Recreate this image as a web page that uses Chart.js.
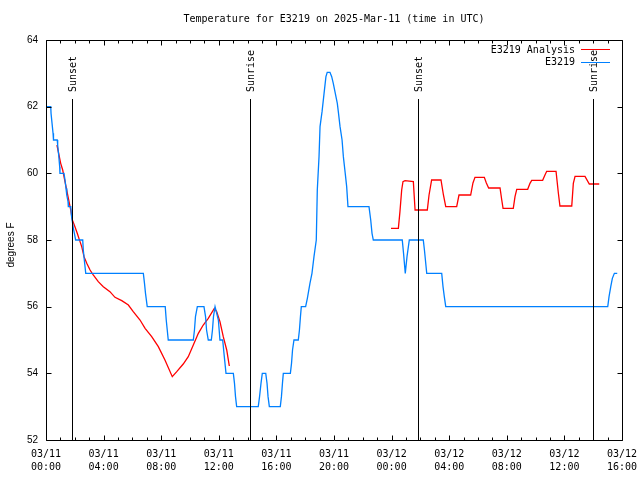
<!DOCTYPE html>
<html>
<head>
<meta charset="utf-8">
<script src="https://cdn.jsdelivr.net/npm/chart.js@4/dist/chart.umd.min.js"></script>
<style>
html,body{margin:0;padding:0;background:#fff;}
canvas{display:block;}
</style>
</head>
<body>
<canvas id="c" width="640" height="480" style="width:640px;height:480px"></canvas>
<script>
// Hours since 03/11 00:00 UTC and temperatures (deg F)
const blueHours = [0.00,0.33,0.35,0.42,0.49,0.52,0.78,0.81,0.88,0.95,0.97,1.25,1.32,1.39,1.44,1.53,1.55,1.72,1.76,1.83,1.90,1.97,2.06,2.55,2.59,2.66,2.76,
  6.76,6.84,6.91,7.03,8.28,8.35,8.42,8.49,10.23,10.31,10.38,10.51,10.97,11.08,11.15,11.27,11.48,11.56,11.63,11.74,11.97,12.08,12.27,12.36,12.43,12.50,
  13.01,13.09,13.16,13.24,14.74,14.83,14.93,15.02,15.26,15.35,15.42,15.51,16.27,16.35,16.42,16.48,16.97,17.05,17.12,17.22,17.52,17.60,17.67,17.73,
  18.03,18.15,18.33,18.47,18.61,18.77,18.84,18.96,19.03,19.17,19.31,19.44,19.53,19.72,19.84,19.95,20.09,20.23,20.30,20.42,20.56,20.65,20.78,20.88,20.97,
  22.43,22.55,22.64,22.73,24.74,24.83,24.95,25.07,25.23,26.20,26.28,26.44,27.48,27.57,27.66,27.76,39.01,39.10,39.22,39.33,39.47,39.67];
const blueTemps = [62.0,62.0,61.8,61.5,61.2,61.0,61.0,60.85,60.55,60.2,60.0,60.0,59.8,59.55,59.35,59.15,59.0,59.0,58.75,58.55,58.35,58.2,58.0,58.0,57.7,57.4,57.0,
  57.0,56.7,56.4,56.0,56.0,55.6,55.3,55.0,55.0,55.3,55.7,56.0,56.0,55.7,55.3,55.0,55.0,55.3,55.7,56.0,55.6,55.0,55.0,54.6,54.3,54.0,
  54.0,53.7,53.3,53.0,53.0,53.3,53.7,54.0,54.0,53.7,53.3,53.0,53.0,53.3,53.7,54.0,54.0,54.3,54.7,55.0,55.0,55.3,55.7,56.0,
  56.0,56.25,56.7,57.0,57.5,58.0,59.5,60.5,61.4,61.85,62.4,62.9,63.03,63.03,62.9,62.7,62.4,62.1,61.85,61.4,61.0,60.5,60.0,59.6,59.0,
  59.0,58.6,58.2,58.0,58.0,57.6,57.0,57.5,58.0,58.0,57.7,57.0,57.0,56.6,56.3,56.0,56.0,56.3,56.6,56.85,57.0,57.0];

const redHours = [0.76,1.02,1.16,1.32,1.46,1.60,1.72,1.83,2.01,2.17,2.31,2.48,2.64,2.83,3.06,3.28,3.63,3.98,4.44,4.79,5.26,5.72,6.06,6.53,6.88,7.34,7.80,
  8.26,8.77,9.08,9.53,9.88,10.23,10.58,10.92,11.27,11.69,11.85,12.08,12.31,12.55,12.73,
  18.00,
  23.96,24.47,24.58,24.70,24.79,24.93,25.51,25.63,26.48,26.60,26.78,27.43,27.60,27.76,28.52,28.68,29.49,29.65,29.79,30.44,30.58,30.74,31.53,31.65,31.74,
  32.45,32.57,32.69,33.45,33.61,33.73,34.49,34.65,34.77,35.42,35.58,35.69,36.51,36.62,36.74,37.43,37.73,38.42];
const redTemps = [60.85,60.3,60.1,59.75,59.45,59.15,58.9,58.6,58.4,58.2,58.02,57.8,57.5,57.3,57.1,56.95,56.75,56.6,56.45,56.28,56.18,56.05,55.85,55.6,55.35,55.1,54.8,
  54.4,53.9,54.05,54.28,54.5,54.85,55.2,55.45,55.65,55.95,55.85,55.55,55.1,54.7,54.22,
  null,
  58.35,58.35,58.85,59.5,59.75,59.78,59.75,58.9,58.9,59.35,59.8,59.8,59.35,59.0,59.0,59.35,59.35,59.71,59.88,59.88,59.71,59.56,59.56,59.2,58.95,
  58.95,59.3,59.52,59.52,59.7,59.79,59.79,59.95,60.06,60.06,59.41,59.02,59.02,59.7,59.91,59.91,59.68,59.68];

const sunHours = [1.83, 14.15, 25.83, 38.0];
const sunLabels = ['Sunset', 'Sunrise', 'Sunset', 'Sunrise'];

const xTickDates = ['03/11','03/11','03/11','03/11','03/11','03/11','03/12','03/12','03/12','03/12','03/12'];
const xTickTimes = ['00:00','04:00','08:00','12:00','16:00','20:00','00:00','04:00','08:00','12:00','16:00'];
const yTickValues = [52, 54, 56, 58, 60, 62, 64];

const titleText = 'Temperature for E3219 on 2025-Mar-11 (time in UTC)';
const yTitleText = 'degrees F';

const MONO = '10px "DejaVu Sans Mono", "Liberation Mono", monospace';
const SANS = '10px "Liberation Sans", Arial, sans-serif';

const blueData = blueHours.map((h, i) => ({x: h, y: blueTemps[i]}));
const redData = redHours.map((h, i) => ({x: h, y: redTemps[i]}));

const decor = {
  id: 'decor',
  beforeDraw(chart) {
    const ctx = chart.ctx;
    ctx.save();
    ctx.fillStyle = '#fff';
    ctx.fillRect(0, 0, chart.width, chart.height);
    ctx.restore();
  },
  afterDatasetsDraw(chart) {
    const ctx = chart.ctx;
    const a = chart.chartArea;
    const xs = chart.scales.x, ys = chart.scales.y;
    ctx.save();
    ctx.strokeStyle = '#000';
    ctx.lineWidth = 1;
    ctx.fillStyle = '#000';
    ctx.font = MONO;
    sunHours.forEach((h, i) => {
      const px = Math.round(xs.getPixelForValue(h)) + 0.5;
      ctx.beginPath();
      ctx.moveTo(px, 99);
      ctx.lineTo(px, a.bottom);
      ctx.stroke();
      ctx.save();
      ctx.translate(px + 1, 92);
      ctx.rotate(-Math.PI / 2);
      ctx.textAlign = 'left';
      ctx.textBaseline = 'middle';
      ctx.fillText(sunLabels[i], 0, 0);
      ctx.restore();
    });
    const L = Math.round(a.left) + 0.5, R = Math.round(a.right) + 0.5;
    const T = Math.round(a.top) + 0.5, B = Math.round(a.bottom) + 0.5;
    ctx.beginPath();
    ctx.rect(L, T, R - L, B - T);
    ctx.stroke();
    ctx.beginPath();
    for (let h = xs.min; h <= xs.max; h += 1) {
      const px = Math.round(xs.getPixelForValue(h)) + 0.5;
      const len = (h % 4 === 0) ? 5 : 3;
      ctx.moveTo(px, B); ctx.lineTo(px, B - len);
      ctx.moveTo(px, T); ctx.lineTo(px, T + len);
    }
    yTickValues.forEach(v => {
      const py = Math.round(ys.getPixelForValue(v)) + 0.5;
      ctx.moveTo(L, py); ctx.lineTo(L + 5, py);
      ctx.moveTo(R, py); ctx.lineTo(R - 5, py);
    });
    ctx.stroke();
    ctx.restore();
  },
  afterDraw(chart) {
    const ctx = chart.ctx;
    const a = chart.chartArea;
    ctx.save();
    ctx.fillStyle = '#000';
    ctx.font = MONO;
    ctx.textAlign = 'center';
    ctx.textBaseline = 'middle';
    ctx.fillText(titleText, (a.left + a.right) / 2, 19);
    ctx.save();
    ctx.font = SANS;
    ctx.translate(11, (a.top + a.bottom) / 2 + 5);
    ctx.rotate(-Math.PI / 2);
    ctx.textAlign = 'center';
    ctx.textBaseline = 'middle';
    ctx.fillText(yTitleText, 0, 0);
    ctx.restore();
    ctx.font = MONO;
    ctx.textAlign = 'right';
    ctx.textBaseline = 'middle';
    const ds = chart.data.datasets;
    const order = [1, 0];
    order.forEach((di, row) => {
      const y = 50 + row * 12.5;
      ctx.fillStyle = '#000';
      ctx.fillText(ds[di].label, 575, y);
      ctx.strokeStyle = ds[di].borderColor;
      ctx.lineWidth = 1;
      ctx.beginPath();
      ctx.moveTo(581, Math.round(y) - 0.5);
      ctx.lineTo(610, Math.round(y) - 0.5);
      ctx.stroke();
    });
    ctx.restore();
  }
};

new Chart(document.getElementById('c'), {
  type: 'line',
  data: {
    datasets: [
      {
        label: 'E3219',
        data: blueData,
        borderColor: 'rgb(0,128,255)',
        backgroundColor: 'rgb(0,128,255)',
        borderWidth: 1.3,
        pointRadius: 0,
        tension: 0,
        fill: false,
        order: 0
      },
      {
        label: 'E3219 Analysis',
        data: redData,
        borderColor: 'rgb(255,0,0)',
        backgroundColor: 'rgb(255,0,0)',
        borderWidth: 1.3,
        pointRadius: 0,
        tension: 0,
        fill: false,
        spanGaps: false,
        order: 1
      }
    ]
  },
  options: {
    responsive: false,
    devicePixelRatio: 1,
    animation: false,
    layout: { padding: { top: 40, right: 18, left: 0, bottom: 0 } },
    plugins: { legend: { display: false }, title: { display: false }, tooltip: { enabled: false } },
    scales: {
      x: {
        type: 'linear',
        min: 0,
        max: 40,
        grid: { display: false, drawTicks: false, tickLength: 0 },
        border: { display: false },
        afterFit(s) { s.height = 40; s.paddingLeft = 0; s.paddingRight = 0; },
        ticks: {
          stepSize: 4,
          autoSkip: false,
          maxRotation: 0,
          minRotation: 0,
          padding: 8,
          color: '#000',
          font: { family: '"DejaVu Sans Mono", "Liberation Mono", monospace', size: 10, lineHeight: 1.3 },
          callback(v) {
            const i = Math.round(v / 4);
            return [xTickDates[i], xTickTimes[i]];
          }
        }
      },
      y: {
        type: 'linear',
        min: 52,
        max: 64,
        grid: { display: false, drawTicks: false, tickLength: 0 },
        border: { display: false },
        afterFit(s) { s.width = 46; s.paddingTop = 0; s.paddingBottom = 0; },
        afterBuildTicks(s) { s.ticks = yTickValues.map(v => ({ value: v })); },
        ticks: {
          padding: 8,
          color: '#000',
          font: { family: '"Liberation Sans", Arial, sans-serif', size: 10 }
        }
      }
    }
  },
  plugins: [decor]
});
</script>
</body>
</html>
